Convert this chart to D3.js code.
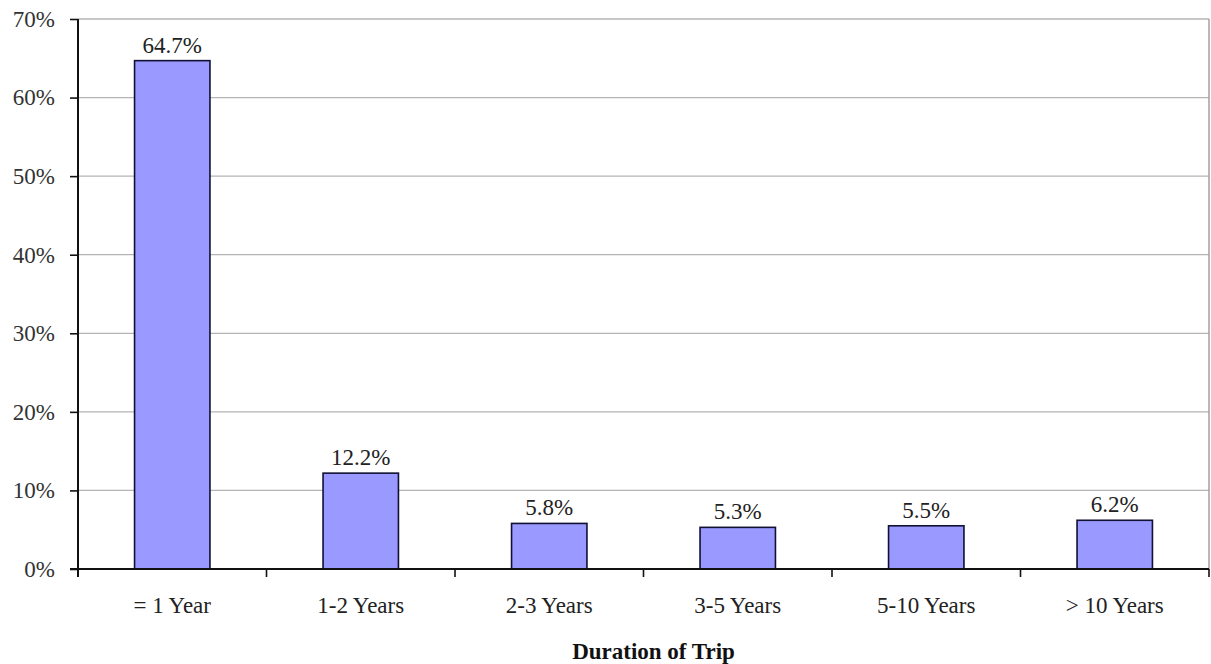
<!DOCTYPE html>
<html>
<head>
<meta charset="utf-8">
<script src="https://cdn.jsdelivr.net/npm/d3@7"></script>
<style>
  html, body { margin: 0; padding: 0; background: #fff; }
  svg { display: block; font-family: "Liberation Serif", "Times New Roman", serif; }
</style>
</head>
<body>
<svg id="chart" width="1211" height="664"></svg>
<script>
// Share of trips by duration
const categories = ["= 1 Year", "1-2 Years", "2-3 Years", "3-5 Years", "5-10 Years", "> 10 Years"];
const shares = [64.7, 12.2, 5.8, 5.3, 5.5, 6.2];
const yTicks = [0, 10, 20, 30, 40, 50, 60, 70];
const xTitle = "Duration of Trip";

const svg = d3.select("#chart");
const margin = { left: 78, right: 2, top: 19, bottom: 95 };
const W = 1211, H = 664;
const plotW = W - margin.left - margin.right;
const plotH = H - margin.top - margin.bottom;
const FS = 23;

const g = svg.append("g").attr("transform", `translate(${margin.left},${margin.top})`);

const x = d3.scaleBand().domain(categories).range([0, plotW]).paddingInner(0.6).paddingOuter(0.3);
const y = d3.scaleLinear().domain([0, 70]).range([plotH, 0]);

// horizontal gridlines
g.append("g").selectAll("line").data(yTicks.filter(t => t > 0)).join("line")
  .attr("x1", 0).attr("x2", plotW)
  .attr("y1", d => y(d)).attr("y2", d => y(d))
  .attr("stroke", "#b4b4b4").attr("stroke-width", 1.3);

// right frame edge
g.append("line").attr("x1", plotW).attr("x2", plotW).attr("y1", 0).attr("y2", plotH)
  .attr("stroke", "#a0a0a0").attr("stroke-width", 1.5);

// bars
g.append("g").selectAll("rect").data(shares).join("rect")
  .attr("x", (d, i) => x(categories[i]))
  .attr("y", d => y(d))
  .attr("width", x.bandwidth())
  .attr("height", d => y(0) - y(d))
  .attr("fill", "#9999ff")
  .attr("stroke", "#111133").attr("stroke-width", 1.6);

// value labels
g.append("g").selectAll("text").data(shares).join("text")
  .attr("x", (d, i) => x(categories[i]) + x.bandwidth() / 2)
  .attr("y", d => y(d) - 8)
  .attr("text-anchor", "middle")
  .attr("font-size", FS)
  .attr("fill", "#222")
  .text(d => d.toFixed(1) + "%");

// y axis
const yAxis = g.append("g")
  .call(d3.axisLeft(y).tickValues(yTicks).tickFormat(d => d + "%").tickSize(8).tickSizeOuter(0));
yAxis.select(".domain").remove();
yAxis.selectAll(".tick line").attr("stroke", "#111").attr("stroke-width", 1.6);
yAxis.selectAll(".tick text").attr("x", -23).attr("font-size", FS).attr("fill", "#333")
  .attr("font-family", "Liberation Serif, serif");
g.append("line").attr("x1", 0).attr("x2", 0).attr("y1", 0).attr("y2", plotH + 8)
  .attr("stroke", "#111").attr("stroke-width", 2);

// x axis with ticks between categories
const xAxisG = g.append("g").attr("transform", `translate(0,${plotH})`);
xAxisG.append("line").attr("x1", -8).attr("x2", plotW).attr("y1", 0).attr("y2", 0)
  .attr("stroke", "#111").attr("stroke-width", 2);
const step = plotW / categories.length;
xAxisG.selectAll("line.tk").data(d3.range(categories.length + 1)).join("line")
  .attr("class", "tk")
  .attr("x1", i => i * step).attr("x2", i => i * step)
  .attr("y1", 0).attr("y2", 8)
  .attr("stroke", "#111").attr("stroke-width", 1.6);
xAxisG.selectAll("text").data(categories).join("text")
  .attr("x", d => x(d) + x.bandwidth() / 2)
  .attr("y", 44)
  .attr("text-anchor", "middle")
  .attr("font-size", FS)
  .attr("fill", "#222")
  .text(d => d);

// axis title
svg.append("text")
  .attr("x", margin.left + plotW / 2 + 10)
  .attr("y", 659)
  .attr("text-anchor", "middle")
  .attr("font-size", FS)
  .attr("font-weight", "bold")
  .attr("fill", "#111")
  .text(xTitle);
</script>
</body>
</html>
